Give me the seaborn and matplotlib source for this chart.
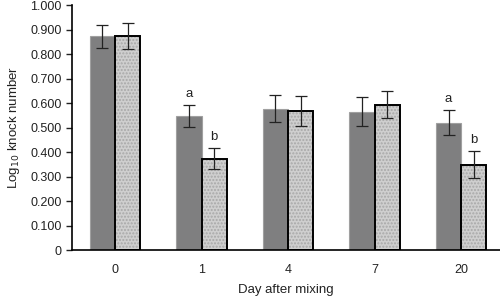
import pandas as pd
import numpy as np
import seaborn as sns
import matplotlib.pyplot as plt

days = ['0', '1', '4', '7', '20']
groups = ['A', 'B']
mean_a = [0.873, 0.548, 0.577, 0.565, 0.520]
mean_b = [0.875, 0.373, 0.568, 0.593, 0.348]
err_a = [0.047, 0.045, 0.055, 0.058, 0.052]
err_b = [0.053, 0.043, 0.060, 0.055, 0.055]
letters_a = ['', 'a', '', '', 'a']
letters_b = ['', 'b', '', '', 'b']

df = pd.DataFrame({
    'day': days * 2,
    'group': ['A'] * 5 + ['B'] * 5,
    'value': mean_a + mean_b,
})

sns.set_style("ticks")
plt.rcParams['font.family'] = ['Liberation Sans', 'DejaVu Sans']

fig = plt.figure(figsize=(5, 2.97), dpi=100)
ax = fig.add_axes([0.144, 0.158, 0.856, 0.825])

sns.barplot(data=df, x='day', y='value', hue='group', order=days, hue_order=groups,
            palette=['#7f7f80', '#cfcfcf'], width=0.58, errorbar=None, legend=False, ax=ax)

# style bars: dark bars with light edge, light bars stippled with black edge
bars_a = ax.patches[:5]
bars_b = ax.patches[5:10]
for p in bars_a:
    p.set_edgecolor('#a0a0a0')
    p.set_linewidth(0.8)
for p in bars_b:
    p.set_edgecolor('black')
    p.set_linewidth(1.4)
    p.set_hatch('.....')
plt.rcParams['hatch.color'] = '#a8a8a8'
plt.rcParams['hatch.linewidth'] = 0.5
for p in bars_b:
    p._hatch_color = (0.66, 0.66, 0.66, 1.0)

for bars, means, errs, letters in [(bars_a, mean_a, err_a, letters_a), (bars_b, mean_b, err_b, letters_b)]:
    xs = [p.get_x() + p.get_width() / 2 for p in bars]
    ax.errorbar(xs, means, yerr=errs, fmt='none', ecolor='#222222', elinewidth=0.9, capsize=4, capthick=0.9)
    for x, m, e, t in zip(xs, means, errs, letters):
        if t:
            ax.text(x, m + e + 0.02, t, ha='center', va='bottom', fontsize=9.5, color='#222222')

ax.set_ylim(0, 1.0)
ax.set_xlim(-0.497, 4.45)
ax.set_yticks(np.arange(0, 1.01, 0.1))
ax.set_yticklabels(['0'] + [f'{v:.3f}' for v in np.arange(0.1, 1.01, 0.1)])
ax.tick_params(axis='y', length=4, width=1, labelsize=9, colors='#222222')
ax.tick_params(axis='x', length=0, labelsize=9, pad=10, colors='#222222')
ax.set_xlabel('Day after mixing', fontsize=9.5, color='#222222', labelpad=6)
ax.set_ylabel('Log$_{10}$ knock number', fontsize=9.5, color='#222222', labelpad=6)
for s in ['top', 'right']:
    ax.spines[s].set_visible(False)
for s in ['left', 'bottom']:
    ax.spines[s].set_linewidth(1.2)
    ax.spines[s].set_color('black')

fig.savefig('out.png', dpi=100)
